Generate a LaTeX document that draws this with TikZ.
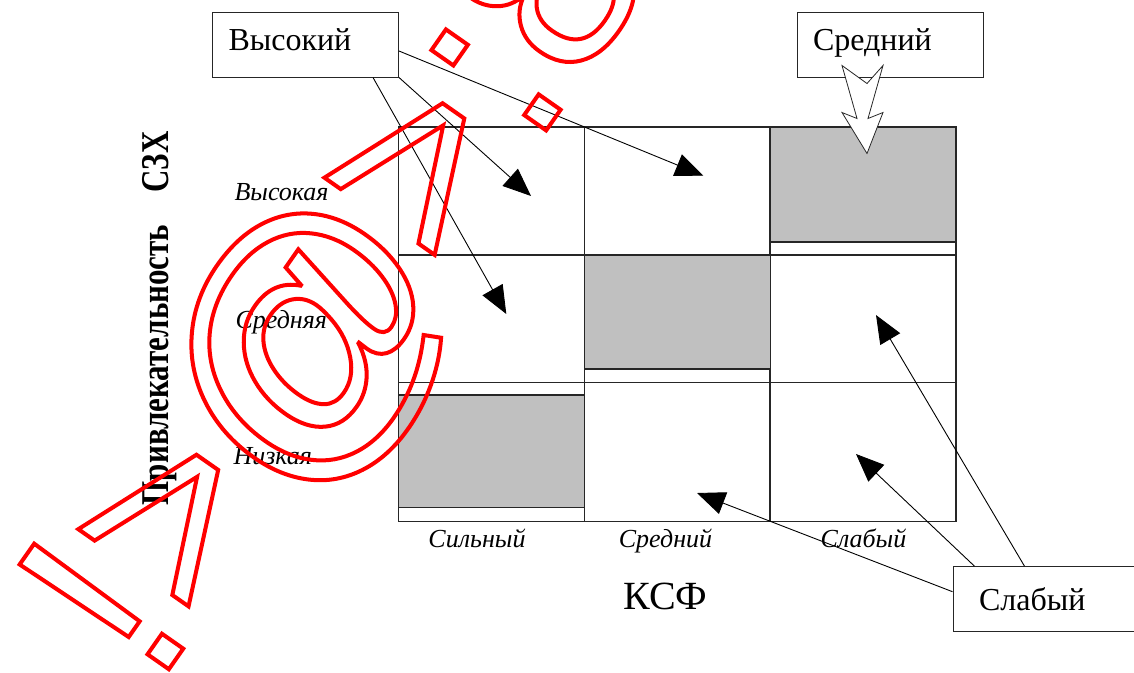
\documentclass[tikz,border=0pt]{standalone}
\usepackage{fontspec}
\setmainfont{Liberation Serif}
\newfontfamily\stampfont{Liberation Sans}
\usetikzlibrary{arrows.meta}
\definecolor{cellgrey}{RGB}{192,192,192}
\definecolor{stampred}{RGB}{255,0,0}
\newcommand{\hollowtext}[1]{\special{pdf:literal direct 1 Tr 4 w}#1\special{pdf:literal direct 0 Tr}}
\newcommand{\bigat}[1]{\raisebox{#1}{\fontsize{290}{300}\selectfont @}}

\begin{document}
\begin{tikzpicture}[x=1pt, y=-1pt,
  cell/.style={draw=black!85, line width=1.3pt, minimum width=186pt, inner sep=0pt, outer sep=0pt},
  shaded/.style={fill=cellgrey, draw=black!85, line width=1.3pt},
  box/.style={draw=black!85, line width=1pt, minimum width=186pt, minimum height=65pt,
    inner xsep=16pt, text width=154pt, align=left, text height=22pt, text depth=11pt,
    font=\fontsize{32}{36}\selectfont},
  link/.style={line width=0.9pt, -{Triangle[length=28pt,width=23pt]}},
  hollow/.style={draw=black!85, line width=0.8pt, fill=white},
  rowlabel/.style={anchor=base west, font=\fontsize{26}{30}\selectfont\itshape},
  collabel/.style={anchor=base, font=\fontsize{26}{30}\selectfont\itshape},
  axislabel/.style={anchor=base, rotate=90, yscale=1.27, font=\fontsize{31}{34}\selectfont\bfseries},
  stamp/.style={anchor=base west, inner sep=0pt, text=stampred, font=\stampfont\fontsize{265}{280}\selectfont},
]
\useasboundingbox (0,0) rectangle (1134,672);

% grid of cells
\foreach \c/\x in {1/491.25, 2/677.25, 3/863}
  \foreach \r/\y/\h in {1/191/128, 2/318.75/127.5, 3/452/139}
    \node[cell, minimum height=\h pt] (m-\r-\c) at (\x,\y) {};
\draw[shaded] (m-1-3.north west) rectangle ([yshift=13pt]m-1-3.south east);
\draw[shaded] (m-2-2.north west) rectangle ([yshift=13.5pt]m-2-2.south east);
\draw[shaded] ([yshift=-12.5pt]m-3-1.north west) rectangle ([yshift=14pt]m-3-1.south east);

% axes
\node[axislabel] (szh) at (168,162) {СЗХ};
\node[axislabel] (attr) at (168,365) {Привлекательность};
\node[rowlabel] (hi) at (231,200) {Высокая};
\node[rowlabel] (mid) at (232,328) {Средняя};
\node[rowlabel] (lo) at (230,464) {Низкая};
\node[collabel] (strong) at (477,547) {Сильный};
\node[collabel] (avg) at (665.5,547) {Средний};
\node[collabel] (weak) at (863.5,547) {Слабый};
\node[anchor=base, font=\fontsize{40}{44}\selectfont] (ksf) at (665.5,609) {КСФ};

% boxes
\node[box] (high) at (305.5,44.5) {Высокий};
\node[box] (medium) at (890,44.5) {Средний};
\node[box, inner xsep=26pt, text width=134pt, text depth=0pt] (low) at (1046,599.2) {Слабый};

% arrow ends
\coordinate (tA) at (703.4,175.7);
\coordinate (tB) at (531,196);
\coordinate (tC) at (506.3,314);
\coordinate (tD) at (697,493);
\coordinate (tE) at (856,454);
\coordinate (tF) at (876,315);

\draw[link] ([yshift=-6.5pt]high.east) -- (tA);
\draw[link] (high.south east) -- (tB);
\draw[link] ([xshift=-26pt]high.south east) -- (tC);
\draw[link] ([yshift=7.5pt]low.west) -- (tD);
\draw[link] ([xshift=22pt]low.north west) -- (tE);
\draw[link] ([xshift=72pt]low.north west) -- (tF);

\begin{scope}[shift={(medium.south)}]
  \draw[hollow] (-48,-12) -- (-23,6) -- (-7,-12) -- (-22,41) -- (-7,35)
    -- (-23,76) -- (-48,35) -- (-33,41) -- cycle;
\end{scope}

% stamp over everything
\node[stamp, rotate=55] (mark) at (155,689)
  {\hollowtext{!>\kern-5pt\bigat{-18pt}\kern-15pt>:8}};
\end{tikzpicture}
\end{document}
